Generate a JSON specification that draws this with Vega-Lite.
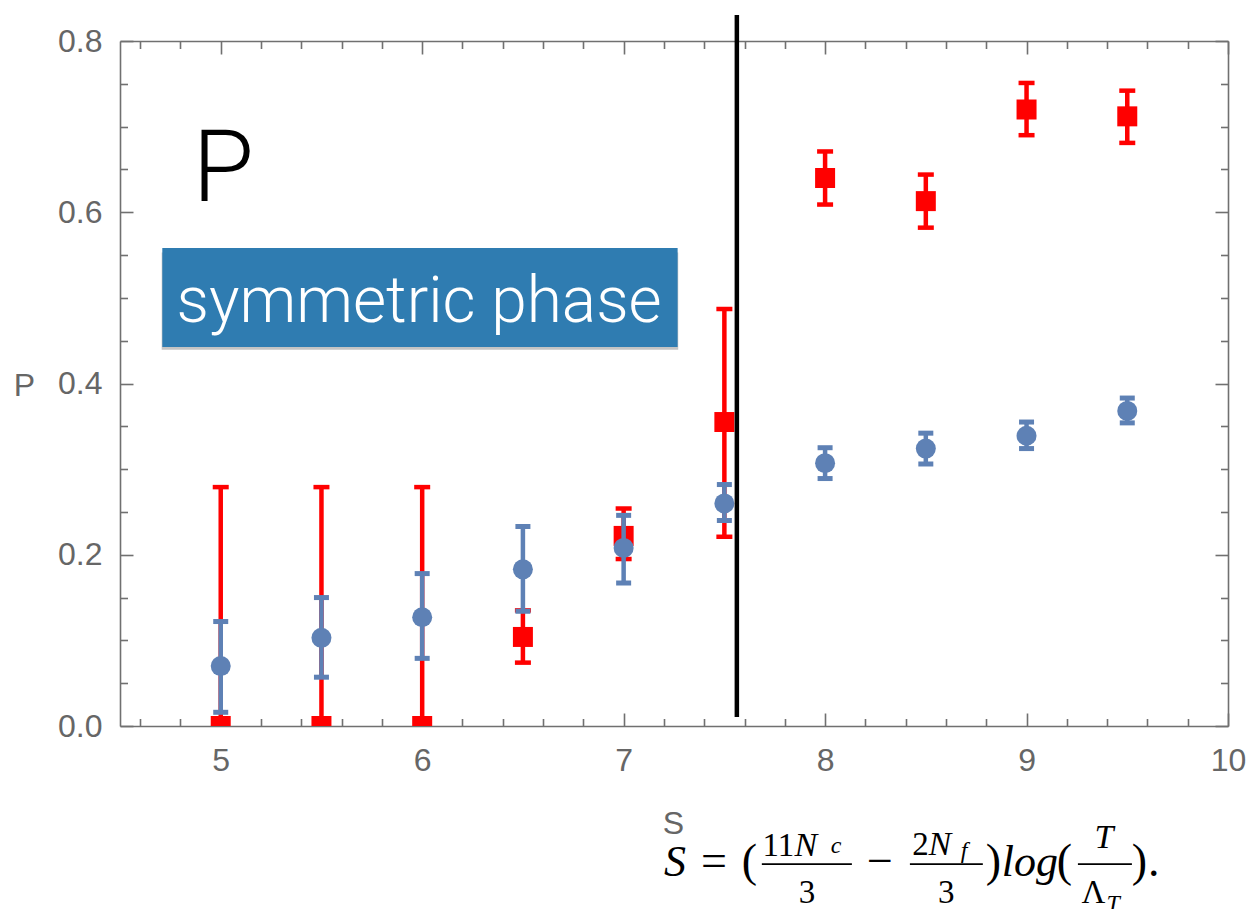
{
  "$schema": "https://vega.github.io/schema/vega-lite/v6.json",
  "width": 1108,
  "height": 685,
  "autosize": {"type": "none"},
  "padding": {"left": 120, "top": 41, "right": 21, "bottom": 183},
  "background": "white",
  "config": {
    "view": {"stroke": null},
    "axis": {
      "grid": false,
      "domainColor": "#707070",
      "tickColor": "#707070",
      "domainWidth": 1.6,
      "tickWidth": 1.6,
      "labelFont": "Liberation Sans",
      "labelFontSize": 32,
      "labelColor": "#666666",
      "titleFont": "Liberation Sans",
      "titleFontSize": 32,
      "titleColor": "#666666",
      "titleFontWeight": "normal"
    }
  },
  "datasets": {
    "blue": [
      {"S": 5.0, "P": 0.070, "lo": 0.016, "hi": 0.122},
      {"S": 5.5, "P": 0.103, "lo": 0.057, "hi": 0.150},
      {"S": 6.0, "P": 0.127, "lo": 0.079, "hi": 0.178},
      {"S": 6.5, "P": 0.183, "lo": 0.134, "hi": 0.233},
      {"S": 7.0, "P": 0.208, "lo": 0.167, "hi": 0.246},
      {"S": 7.5, "P": 0.260, "lo": 0.240, "hi": 0.282},
      {"S": 8.0, "P": 0.307, "lo": 0.289, "hi": 0.325},
      {"S": 8.5, "P": 0.324, "lo": 0.306, "hi": 0.342},
      {"S": 9.0, "P": 0.339, "lo": 0.324, "hi": 0.355},
      {"S": 9.5, "P": 0.368, "lo": 0.354, "hi": 0.383}
    ],
    "red": [
      {"S": 5.0, "P": 0.0, "lo": 0.0, "hi": 0.279},
      {"S": 5.5, "P": 0.0, "lo": 0.0, "hi": 0.279},
      {"S": 6.0, "P": 0.0, "lo": 0.0, "hi": 0.279},
      {"S": 6.5, "P": 0.104, "lo": 0.074, "hi": 0.135},
      {"S": 7.0, "P": 0.222, "lo": 0.195, "hi": 0.254},
      {"S": 7.5, "P": 0.355, "lo": 0.221, "hi": 0.487},
      {"S": 8.0, "P": 0.640, "lo": 0.609, "hi": 0.671},
      {"S": 8.5, "P": 0.613, "lo": 0.582, "hi": 0.644},
      {"S": 9.0, "P": 0.720, "lo": 0.690, "hi": 0.751},
      {"S": 9.5, "P": 0.712, "lo": 0.681, "hi": 0.742}
    ],
    "vline": [{"x": 7.562, "y": 0.0105, "y2": 0.8304}],
    "box": [{"x": 4.710, "x2": 7.268, "y": 0.4426, "y2": 0.5582}],
    "shadow": [{"x": 4.707, "x2": 7.271, "y": 0.4395, "y2": 0.553}],
    "boxText": [{"t": "symmetric phase", "x": 5.985, "y": 0.4718}],
    "bigP": [{"t": "P", "x": 4.86, "y": 0.6131}],
    "mainItalic": [
      {"t": "S", "x": 7.255, "y": -0.1752},
      {"t": "log", "x": 9.016, "y": -0.1752}
    ],
    "mainUpright": [
      {"t": "=", "x": 7.448, "y": -0.1752},
      {"t": "(", "x": 7.624, "y": -0.1752},
      {"t": "−", "x": 8.272, "y": -0.1752},
      {"t": ")", "x": 8.835, "y": -0.1752},
      {"t": "(", "x": 9.188, "y": -0.1752},
      {"t": ")", "x": 9.560, "y": -0.1752},
      {"t": ".", "x": 9.632, "y": -0.1752}
    ],
    "fracUpright": [
      {"t": "11", "x": 7.768, "y": -0.1518},
      {"t": "3", "x": 7.910, "y": -0.2067},
      {"t": "2", "x": 8.474, "y": -0.1507},
      {"t": "3", "x": 8.602, "y": -0.2067},
      {"t": "Λ", "x": 9.332, "y": -0.2067}
    ],
    "fracItalic": [
      {"t": "N", "x": 7.905, "y": -0.1518},
      {"t": "N", "x": 8.570, "y": -0.1507},
      {"t": "T", "x": 9.384, "y": -0.1425}
    ],
    "subs": [
      {"t": "c", "x": 8.055, "y": -0.1483},
      {"t": "f", "x": 8.690, "y": -0.1542},
      {"t": "T", "x": 9.430, "y": -0.2161}
    ],
    "bars": [
      {"x": 7.686, "x2": 8.133, "y": -0.1612},
      {"x": 8.421, "x2": 8.783, "y": -0.1612},
      {"x": 9.255, "x2": 9.523, "y": -0.1612}
    ]
  },
  "resolve": {"axis": {"x": "independent", "y": "independent"}},
  "layer": [
    {
      "data": {"name": "shadow"},
      "mark": {"type": "rect", "color": "#555555", "opacity": 0.35},
      "encoding": {
        "x": {"field": "x", "type": "quantitative", "scale": {"domain": [4.5, 10], "nice": false, "zero": false}, "axis": null},
        "x2": {"field": "x2"},
        "y": {"field": "y", "type": "quantitative", "scale": {"domain": [0, 0.8], "nice": false, "zero": false}, "axis": null},
        "y2": {"field": "y2"}
      }
    },
    {
      "data": {"name": "box"},
      "mark": {"type": "rect", "color": "#2f7cb1"},
      "encoding": {
        "x": {"field": "x", "type": "quantitative", "scale": {"domain": [4.5, 10], "nice": false, "zero": false}, "axis": null},
        "x2": {"field": "x2"},
        "y": {"field": "y", "type": "quantitative", "scale": {"domain": [0, 0.8], "nice": false, "zero": false}, "axis": null},
        "y2": {"field": "y2"}
      }
    },
    {
      "data": {"name": "boxText"},
      "mark": {"type": "text", "color": "white", "font": "Roboto", "fontWeight": 300, "fontSize": 64, "align": "center", "baseline": "alphabetic"},
      "encoding": {
        "x": {"field": "x", "type": "quantitative", "scale": {"domain": [4.5, 10], "nice": false, "zero": false}, "axis": null},
        "y": {"field": "y", "type": "quantitative", "scale": {"domain": [0, 0.8], "nice": false, "zero": false}, "axis": null},
        "text": {"field": "t"}
      }
    },
    {
      "data": {"name": "bigP"},
      "mark": {"type": "text", "color": "black", "font": "Roboto", "fontWeight": 300, "fontSize": 100, "align": "left", "baseline": "alphabetic"},
      "encoding": {
        "x": {"field": "x", "type": "quantitative", "scale": {"domain": [4.5, 10], "nice": false, "zero": false}, "axis": null},
        "y": {"field": "y", "type": "quantitative", "scale": {"domain": [0, 0.8], "nice": false, "zero": false}, "axis": null},
        "text": {"field": "t"}
      }
    },
    {
      "data": {"name": "red"},
      "mark": {"type": "rule", "color": "#ff0000", "strokeWidth": 4.5, "opacity": 1, "clip": true},
      "encoding": {
        "x": {"field": "S", "type": "quantitative", "scale": {"domain": [4.5, 10], "nice": false, "zero": false},
              "axis": {"orient": "top", "values": [4.6, 4.8, 5.2, 5.4, 5.6, 5.8, 6.2, 6.4, 6.6, 6.8, 7.2, 7.4, 7.6, 7.8, 8.2, 8.4, 8.6, 8.8, 9.2, 9.4, 9.6, 9.8], "labels": false, "tickSize": -7.5, "domain": false, "title": null}},
        "y": {"field": "lo", "type": "quantitative", "scale": {"domain": [0, 0.8], "nice": false, "zero": false},
              "axis": {"orient": "right", "values": [0.05, 0.1, 0.15, 0.25, 0.3, 0.35, 0.45, 0.5, 0.55, 0.65, 0.7, 0.75], "labels": false, "tickSize": -7.5, "domain": false, "title": null}},
        "y2": {"field": "hi"}
      }
    },
    {
      "data": {"name": "red"},
      "mark": {"type": "tick", "orient": "horizontal", "color": "#ff0000", "opacity": 1, "size": 16, "thickness": 4.5, "clip": true},
      "encoding": {
        "x": {"field": "S", "type": "quantitative", "scale": {"domain": [4.5, 10], "nice": false, "zero": false}, "axis": null},
        "y": {"field": "lo", "type": "quantitative", "scale": {"domain": [0, 0.8], "nice": false, "zero": false}, "axis": null}
      }
    },
    {
      "data": {"name": "red"},
      "mark": {"type": "tick", "orient": "horizontal", "color": "#ff0000", "opacity": 1, "size": 16, "thickness": 4.5, "clip": true},
      "encoding": {
        "x": {"field": "S", "type": "quantitative", "scale": {"domain": [4.5, 10], "nice": false, "zero": false}, "axis": null},
        "y": {"field": "hi", "type": "quantitative", "scale": {"domain": [0, 0.8], "nice": false, "zero": false}, "axis": null}
      }
    },
    {
      "data": {"name": "red"},
      "mark": {"type": "point", "shape": "square", "filled": true, "size": 400, "color": "#ff0000", "opacity": 1, "clip": true},
      "encoding": {
        "x": {"field": "S", "type": "quantitative", "scale": {"domain": [4.5, 10], "nice": false, "zero": false},
              "axis": {"orient": "top", "values": [5, 6, 7, 8, 9, 10], "labels": false, "tickSize": -13, "title": null}},
        "y": {"field": "P", "type": "quantitative", "scale": {"domain": [0, 0.8], "nice": false, "zero": false},
              "axis": {"orient": "right", "values": [0, 0.2, 0.4, 0.6, 0.8], "labels": false, "tickSize": -13, "title": null}}
      }
    },
    {
      "data": {"name": "blue"},
      "mark": {"type": "rule", "color": "#5e81b5", "strokeWidth": 4.5, "opacity": 1},
      "encoding": {
        "x": {"field": "S", "type": "quantitative", "scale": {"domain": [4.5, 10], "nice": false, "zero": false},
              "axis": {"orient": "bottom", "values": [4.6, 4.8, 5.2, 5.4, 5.6, 5.8, 6.2, 6.4, 6.6, 6.8, 7.2, 7.4, 7.6, 7.8, 8.2, 8.4, 8.6, 8.8, 9.2, 9.4, 9.6, 9.8], "labels": false, "tickSize": -7.5, "domain": false, "title": null}},
        "y": {"field": "lo", "type": "quantitative", "scale": {"domain": [0, 0.8], "nice": false, "zero": false},
              "axis": {"orient": "left", "values": [0.05, 0.1, 0.15, 0.25, 0.3, 0.35, 0.45, 0.5, 0.55, 0.65, 0.7, 0.75], "labels": false, "tickSize": -7.5, "domain": false, "title": null}},
        "y2": {"field": "hi"}
      }
    },
    {
      "data": {"name": "blue"},
      "mark": {"type": "tick", "orient": "horizontal", "color": "#5e81b5", "opacity": 1, "size": 15, "thickness": 5},
      "encoding": {
        "x": {"field": "S", "type": "quantitative", "scale": {"domain": [4.5, 10], "nice": false, "zero": false}, "axis": null},
        "y": {"field": "lo", "type": "quantitative", "scale": {"domain": [0, 0.8], "nice": false, "zero": false}, "axis": null}
      }
    },
    {
      "data": {"name": "blue"},
      "mark": {"type": "tick", "orient": "horizontal", "color": "#5e81b5", "opacity": 1, "size": 15, "thickness": 5},
      "encoding": {
        "x": {"field": "S", "type": "quantitative", "scale": {"domain": [4.5, 10], "nice": false, "zero": false}, "axis": null},
        "y": {"field": "hi", "type": "quantitative", "scale": {"domain": [0, 0.8], "nice": false, "zero": false}, "axis": null}
      }
    },
    {
      "data": {"name": "blue"},
      "mark": {"type": "point", "shape": "circle", "filled": true, "size": 400, "color": "#5e81b5", "opacity": 1},
      "encoding": {
        "x": {"field": "S", "type": "quantitative", "scale": {"domain": [4.5, 10], "nice": false, "zero": false},
              "axis": {"orient": "bottom", "values": [5, 6, 7, 8, 9, 10], "tickSize": -13, "labelPadding": 32, "labelFlush": false,
                       "title": "S", "titleX": 553, "titleY": 107, "titleAlign": "center", "titleBaseline": "alphabetic", "titleAngle": 0}},
        "y": {"field": "P", "type": "quantitative", "scale": {"domain": [0, 0.8], "nice": false, "zero": false},
              "axis": {"orient": "left", "values": [0, 0.2, 0.4, 0.6, 0.8], "format": ".1f", "tickSize": -13, "labelPadding": 31, "labelFlush": false,
                       "title": "P", "titleX": -96, "titleY": 354, "titleAngle": 0, "titleAlign": "center", "titleBaseline": "alphabetic"}}
      }
    },
    {
      "data": {"name": "vline"},
      "mark": {"type": "rule", "color": "black", "strokeWidth": 4.5},
      "encoding": {
        "x": {"field": "x", "type": "quantitative", "scale": {"domain": [4.5, 10], "nice": false, "zero": false}, "axis": null},
        "y": {"field": "y", "type": "quantitative", "scale": {"domain": [0, 0.8], "nice": false, "zero": false}, "axis": null},
        "y2": {"field": "y2"}
      }
    },
    {
      "data": {"name": "mainItalic"},
      "mark": {"type": "text", "color": "black", "font": "Liberation Serif", "fontStyle": "italic", "fontSize": 44, "align": "center", "baseline": "alphabetic"},
      "encoding": {
        "x": {"field": "x", "type": "quantitative", "scale": {"domain": [4.5, 10], "nice": false, "zero": false}, "axis": null},
        "y": {"field": "y", "type": "quantitative", "scale": {"domain": [0, 0.8], "nice": false, "zero": false}, "axis": null},
        "text": {"field": "t"}
      }
    },
    {
      "data": {"name": "mainUpright"},
      "mark": {"type": "text", "color": "black", "font": "Liberation Serif", "fontSize": 46, "align": "center", "baseline": "alphabetic"},
      "encoding": {
        "x": {"field": "x", "type": "quantitative", "scale": {"domain": [4.5, 10], "nice": false, "zero": false}, "axis": null},
        "y": {"field": "y", "type": "quantitative", "scale": {"domain": [0, 0.8], "nice": false, "zero": false}, "axis": null},
        "text": {"field": "t"}
      }
    },
    {
      "data": {"name": "fracUpright"},
      "mark": {"type": "text", "color": "black", "font": "Liberation Serif", "fontSize": 33, "align": "center", "baseline": "alphabetic"},
      "encoding": {
        "x": {"field": "x", "type": "quantitative", "scale": {"domain": [4.5, 10], "nice": false, "zero": false}, "axis": null},
        "y": {"field": "y", "type": "quantitative", "scale": {"domain": [0, 0.8], "nice": false, "zero": false}, "axis": null},
        "text": {"field": "t"}
      }
    },
    {
      "data": {"name": "fracItalic"},
      "mark": {"type": "text", "color": "black", "font": "Liberation Serif", "fontStyle": "italic", "fontSize": 34, "align": "center", "baseline": "alphabetic"},
      "encoding": {
        "x": {"field": "x", "type": "quantitative", "scale": {"domain": [4.5, 10], "nice": false, "zero": false}, "axis": null},
        "y": {"field": "y", "type": "quantitative", "scale": {"domain": [0, 0.8], "nice": false, "zero": false}, "axis": null},
        "text": {"field": "t"}
      }
    },
    {
      "data": {"name": "subs"},
      "mark": {"type": "text", "color": "black", "font": "Liberation Serif", "fontStyle": "italic", "fontSize": 24, "align": "center", "baseline": "alphabetic"},
      "encoding": {
        "x": {"field": "x", "type": "quantitative", "scale": {"domain": [4.5, 10], "nice": false, "zero": false}, "axis": null},
        "y": {"field": "y", "type": "quantitative", "scale": {"domain": [0, 0.8], "nice": false, "zero": false}, "axis": null},
        "text": {"field": "t"}
      }
    },
    {
      "data": {"name": "bars"},
      "mark": {"type": "rule", "color": "black", "strokeWidth": 1.8},
      "encoding": {
        "x": {"field": "x", "type": "quantitative", "scale": {"domain": [4.5, 10], "nice": false, "zero": false}, "axis": null},
        "x2": {"field": "x2"},
        "y": {"field": "y", "type": "quantitative", "scale": {"domain": [0, 0.8], "nice": false, "zero": false}, "axis": null}
      }
    }
  ]
}
